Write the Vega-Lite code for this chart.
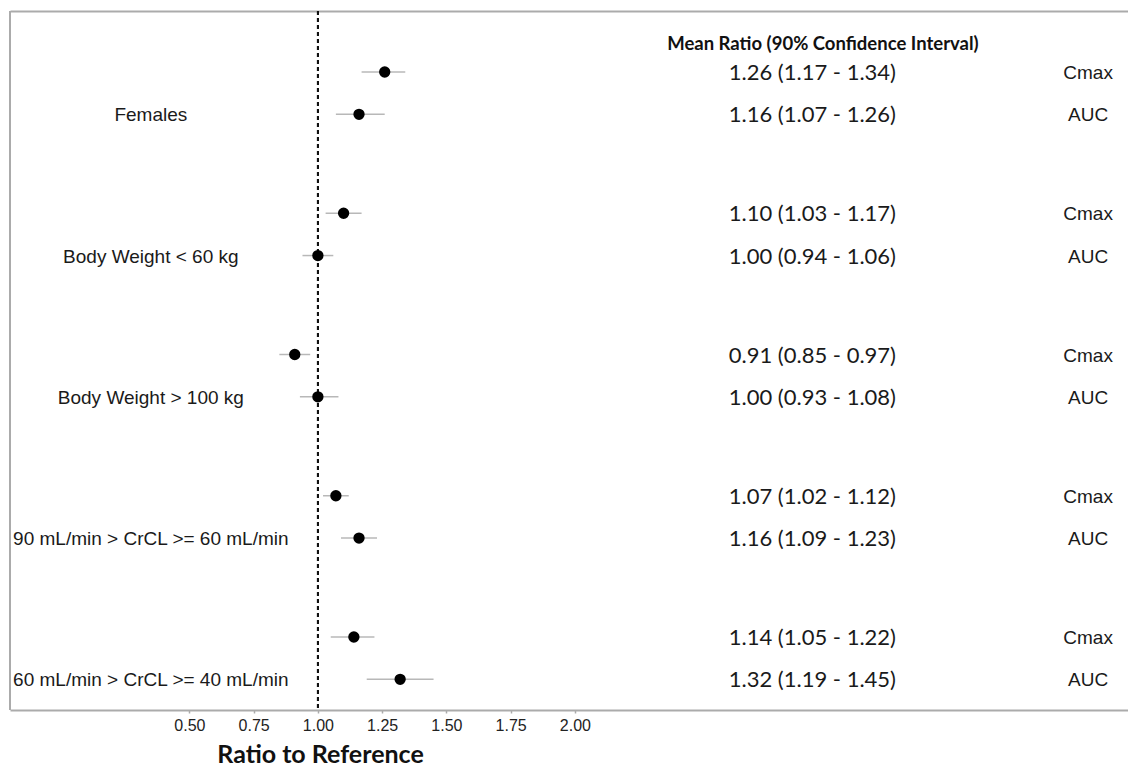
{
  "$schema": "https://vega.github.io/schema/vega-lite/v6.json",
  "width": 1119,
  "height": 699,
  "padding": {"left": 9, "top": 10, "right": 0, "bottom": 0},
  "background": "white",
  "config": {"view": {"stroke": null}},
  "data": {"values": [
    {"group": "Females", "param": "Cmax", "ratio": 1.26, "lo": 1.17, "hi": 1.34},
    {"group": "Females", "param": "AUC", "ratio": 1.16, "lo": 1.07, "hi": 1.26},
    {"group": "Body Weight < 60 kg", "param": "Cmax", "ratio": 1.10, "lo": 1.03, "hi": 1.17},
    {"group": "Body Weight < 60 kg", "param": "AUC", "ratio": 1.00, "lo": 0.94, "hi": 1.06},
    {"group": "Body Weight > 100 kg", "param": "Cmax", "ratio": 0.91, "lo": 0.85, "hi": 0.97},
    {"group": "Body Weight > 100 kg", "param": "AUC", "ratio": 1.00, "lo": 0.93, "hi": 1.08},
    {"group": "90 mL/min > CrCL >= 60 mL/min", "param": "Cmax", "ratio": 1.07, "lo": 1.02, "hi": 1.12},
    {"group": "90 mL/min > CrCL >= 60 mL/min", "param": "AUC", "ratio": 1.16, "lo": 1.09, "hi": 1.23},
    {"group": "60 mL/min > CrCL >= 40 mL/min", "param": "Cmax", "ratio": 1.14, "lo": 1.05, "hi": 1.22},
    {"group": "60 mL/min > CrCL >= 40 mL/min", "param": "AUC", "ratio": 1.32, "lo": 1.19, "hi": 1.45}
  ]},
  "transform": [
    {"calculate": "format(datum.ratio,'.2f') + ' (' + format(datum.lo,'.2f') + ' - ' + format(datum.hi,'.2f') + ')'", "as": "ci"}
  ],
  "resolve": {"axis": {"x": "independent"}},
  "layer": [
    {
      "mark": {"type": "rule", "color": "#ababab", "strokeWidth": 2},
      "encoding": {"x": {"datum": -0.198, "type": "quantitative", "axis": null}}
    },
    {
      "mark": {"type": "rule", "color": "#111111", "strokeWidth": 1.8, "strokeDash": [4, 3]},
      "encoding": {"x": {"datum": 1, "type": "quantitative", "axis": null}}
    },
    {
      "mark": {"type": "rule", "color": "#b8b8b8", "strokeWidth": 1.5},
      "encoding": {
        "x": {"field": "lo", "type": "quantitative", "axis": null},
        "x2": {"field": "hi"},
        "y": {"field": "group", "type": "nominal", "sort": null, "axis": null, "scale": {"range": [0, 706.25], "paddingInner": 0, "paddingOuter": 0}},
        "yOffset": {"field": "param", "type": "nominal", "sort": ["Cmax", "AUC"], "scale": {"type": "point", "range": [61, 103.3], "padding": 0}}
      }
    },
    {
      "mark": {"type": "circle", "color": "black", "size": 128, "opacity": 1},
      "encoding": {
        "x": {
          "field": "ratio", "type": "quantitative",
          "scale": {"domain": [-0.198, 4.156], "nice": false, "zero": false},
          "axis": {
            "orient": "bottom", "values": [0.5, 0.75, 1, 1.25, 1.5, 1.75, 2], "format": ".2f",
            "grid": false, "domain": true, "domainColor": "#ababab", "domainWidth": 2,
            "ticks": true, "tickColor": "#ababab", "tickSize": 3, "tickWidth": 1.5,
            "labelFont": "Arial, Liberation Sans, sans-serif", "labelFontSize": 16, "labelColor": "#222222", "labelPadding": 4,
            "title": "Ratio to Reference", "titleFont": "Lato", "titleFontWeight": "bold", "titleFontSize": 25,
            "titleColor": "#111111", "titleX": 310, "titlePadding": 9
          }
        },
        "y": {"field": "group", "type": "nominal", "sort": null, "axis": null},
        "yOffset": {"field": "param", "type": "nominal", "sort": ["Cmax", "AUC"]}
      }
    },
    {
      "transform": [{"filter": "datum.param === 'AUC'"}],
      "mark": {"type": "text", "font": "Arial, Liberation Sans, sans-serif", "fontSize": 19, "align": "center", "baseline": "middle", "color": "#1a1a1a", "dy": 1},
      "encoding": {
        "x": {"datum": 0.35, "type": "quantitative", "axis": null},
        "y": {"field": "group", "type": "nominal", "sort": null, "axis": null},
        "yOffset": {"field": "param", "type": "nominal", "sort": ["Cmax", "AUC"]},
        "text": {"field": "group"}
      }
    },
    {
      "mark": {"type": "text", "font": "Lato", "fontSize": 22, "align": "center", "baseline": "middle", "color": "#1a1a1a", "dy": 1},
      "encoding": {
        "x": {"datum": 2.924, "type": "quantitative", "axis": null},
        "y": {"field": "group", "type": "nominal", "sort": null, "axis": null},
        "yOffset": {"field": "param", "type": "nominal", "sort": ["Cmax", "AUC"]},
        "text": {"field": "ci"}
      }
    },
    {
      "mark": {"type": "text", "font": "Arial, Liberation Sans, sans-serif", "fontSize": 19, "align": "center", "baseline": "middle", "color": "#1a1a1a", "dy": 1},
      "encoding": {
        "x": {"datum": 3.997, "type": "quantitative", "axis": null},
        "y": {"field": "group", "type": "nominal", "sort": null, "axis": null},
        "yOffset": {"field": "param", "type": "nominal", "sort": ["Cmax", "AUC"]},
        "text": {"field": "param"}
      }
    },
    {
      "transform": [{"filter": "datum.group === 'Females' && datum.param === 'Cmax'"}],
      "mark": {"type": "text", "font": "Lato", "fontWeight": "bold", "fontSize": 18.5, "align": "center", "baseline": "middle", "color": "#111111", "dy": -28},
      "encoding": {
        "x": {
          "datum": 2.965, "type": "quantitative",
          "axis": {"orient": "top", "labels": false, "ticks": false, "grid": false, "domain": true, "domainColor": "#ababab", "domainWidth": 2, "title": null}
        },
        "y": {"field": "group", "type": "nominal", "sort": null, "axis": null},
        "yOffset": {"field": "param", "type": "nominal", "sort": ["Cmax", "AUC"]},
        "text": {"value": "Mean Ratio (90% Confidence Interval)"}
      }
    }
  ]
}
